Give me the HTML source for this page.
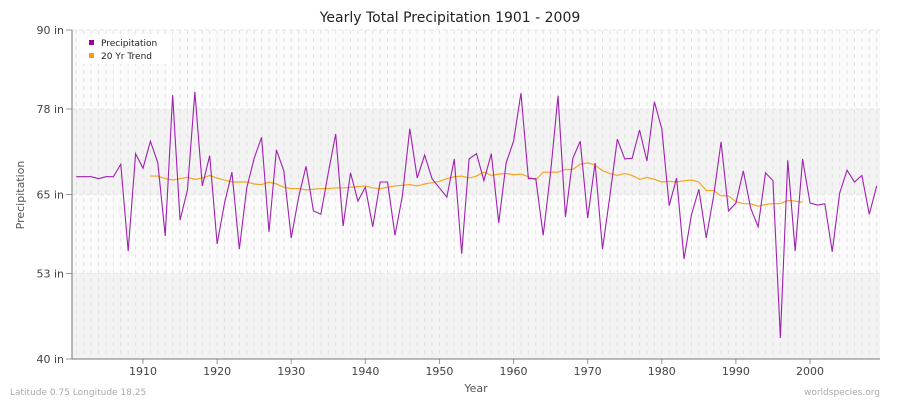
<!DOCTYPE html>
<html><head><meta charset="utf-8"><style>
body{margin:0;background:#fff;font-family:"Liberation Sans",sans-serif;}
svg text{font-family:"DejaVu Sans","Liberation Sans",sans-serif;}
</style></head><body>
<svg id="c" width="900" height="400" xmlns="http://www.w3.org/2000/svg">
<text x="450" y="22" text-anchor="middle" font-size="14" fill="#222">Yearly Total Precipitation 1901 - 2009</text>
<g id="bands"></g><g id="grid"></g>
<g id="axes"></g>
<polyline id="trend" fill="none" stroke="#f5a623" stroke-width="1.2"/>
<polyline id="precip" fill="none" stroke="#a020b0" stroke-width="1.1"/>
<g>
<rect x="80" y="34" width="92" height="30" fill="#fff" opacity="0.9"/>
<rect x="89" y="40" width="5" height="5" fill="#a0009f"/>
<text x="101" y="46" font-size="9" fill="#222">Precipitation</text>
<rect x="89" y="53" width="5" height="5" fill="#f5a000"/>
<text x="101" y="59" font-size="9" fill="#222">20 Yr Trend</text>
</g>
<text x="24" y="195" font-size="11" fill="#555" text-anchor="middle" transform="rotate(-90 24 195)">Precipitation</text>
<text x="476" y="392" font-size="11" fill="#555" text-anchor="middle">Year</text>
<text x="10" y="395" font-size="9" fill="#aaa">Latitude 0.75 Longitude 18.25</text>
<text x="880" y="395" font-size="9" fill="#aaa" text-anchor="end">worldspecies.org</text>
</svg>
<script>
const startYear=1901;
const precip=[67.7,67.7,67.7,67.4,67.7,67.7,69.6,56.4,71.2,69.0,73.1,69.8,58.7,80.1,61.1,65.7,80.6,66.3,70.9,57.5,63.7,68.4,56.7,66.0,70.5,73.7,59.3,71.8,68.6,58.4,64.6,69.3,62.5,62.0,68.3,74.2,60.2,68.3,64.0,66.1,60.1,66.9,66.9,58.8,64.8,75.0,67.5,71.0,67.4,66.0,64.6,70.4,56.0,70.4,71.2,67.1,71.2,60.7,69.8,73.1,80.4,67.4,67.4,58.8,68.4,80.0,61.6,70.5,73.1,61.4,69.8,56.7,64.8,73.4,70.4,70.5,74.8,70.1,79.1,75.0,63.3,67.5,55.2,61.9,65.8,58.4,64.8,73.0,62.5,63.7,68.6,62.9,60.1,68.3,67.1,43.2,70.2,56.4,70.4,63.7,63.4,63.6,56.3,65.2,68.7,66.9,67.9,62.0,66.3];
const trendStart=1911;
const trend=[67.8,67.8,67.4,67.2,67.4,67.6,67.3,67.5,67.9,67.5,67.2,66.9,66.9,66.9,66.6,66.5,66.9,66.6,66.1,65.9,65.9,65.7,65.8,65.9,65.9,66.0,66.0,66.1,66.2,66.3,66.0,65.9,66.1,66.3,66.4,66.5,66.3,66.6,66.8,67.0,67.4,67.7,67.8,67.5,67.8,68.4,67.9,68.1,68.2,68.0,68.1,67.7,67.2,68.4,68.4,68.4,68.8,68.8,69.6,69.8,69.5,68.6,68.2,67.9,68.2,67.9,67.3,67.6,67.3,66.9,67.0,66.9,67.1,67.2,66.9,65.6,65.6,64.8,64.8,63.9,63.6,63.6,63.2,63.5,63.6,63.6,64.1,64.0,63.8];
const yTicks=[40,53,65,78,90];
const yTickLabels=["40 in","53 in","65 in","78 in","90 in"];
const xTicks=[1910,1920,1930,1940,1950,1960,1970,1980,1990,2000];
const NS="http://www.w3.org/2000/svg";
const L=72,R=880,T=30,B=359;
const x=yr=>143+(yr-1910)*(810-143)/90;
const y=v=>T+(90-v)*(B-T)/50;
function mk(tag,attrs,parent){const e=document.createElementNS(NS,tag);for(const k in attrs)e.setAttribute(k,attrs[k]);document.getElementById(parent).appendChild(e);return e;}
const bandFill=["#f3f3f3","#fbfbfb","#f3f3f3","#fbfbfb"];
for(let i=0;i<yTicks.length-1;i++){
 const r=mk('rect',{x:L,y:y(yTicks[i+1]),width:R-L,height:y(yTicks[i])-y(yTicks[i+1]),fill:bandFill[i]},'bands');
 
 
}
for(let yr=startYear;yr<=2009;yr++){
 const l=mk('line',{x1:x(yr),x2:x(yr),y1:T,y2:B,stroke:"#e2e2e2","stroke-dasharray":"4,4","stroke-width":1},'grid');
 
 
}
yTicks.forEach((v,i)=>{
 const l=mk('line',{x1:L,x2:R,y1:y(v),y2:y(v),stroke:"#e6e6e6","stroke-dasharray":"4,3"},'grid');
 
 
 const t=mk('line',{x1:L-6,x2:L,y1:y(v),y2:y(v),stroke:"#999"},'axes');
 
 
 const tx=mk('text',{x:L-8,y:y(v)+4,"text-anchor":"end","font-size":"11",fill:"#444"},'axes');
 tx.textContent=yTickLabels[i];
 
 
});
xTicks.forEach(yr=>{
 const t=mk('line',{x1:x(yr),x2:x(yr),y1:B,y2:B+5,stroke:"#999"},'axes');
 
 
 const tx=mk('text',{x:x(yr),y:B+16,"text-anchor":"middle","font-size":"11",fill:"#444"},'axes');
 tx.textContent=yr;
 
 
});
const ax=mk('path',{d:`M${L} ${T} V${B} H${R}`,stroke:"#777",fill:"none"},'axes');


document.getElementById('precip').setAttribute('points',precip.map((v,i)=>x(startYear+i)+','+y(v)).join(' '));
document.getElementById('trend').setAttribute('points',trend.map((v,i)=>x(trendStart+i)+','+y(v)).join(' '));
</script>
</body></html>
